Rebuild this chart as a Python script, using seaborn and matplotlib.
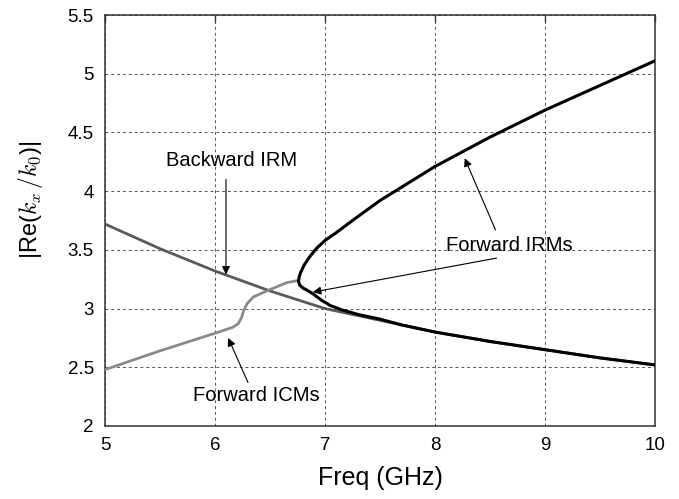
import matplotlib
matplotlib.use("Agg")
import matplotlib.pyplot as plt
import seaborn as sns
import pandas as pd

# Data
bw_x = [5.0, 5.5, 6.0, 6.5, 7.0, 7.5, 8.0, 8.5, 9.0, 9.5, 10.0]
bw_y = [3.72, 3.51, 3.32, 3.15, 3.00, 2.90, 2.80, 2.72, 2.65, 2.58, 2.52]

icm_x = [5.0, 5.5, 6.0, 6.16, 6.21, 6.24, 6.26, 6.29, 6.35, 6.47, 6.65, 6.76]
icm_y = [2.48, 2.64, 2.79, 2.84, 2.87, 2.92, 2.98, 3.04, 3.10, 3.15, 3.22, 3.24]

irm_x = [10.0, 9.5, 9.0, 8.5, 8.0, 7.5, 7.25, 7.1, 7.0, 6.92, 6.86, 6.81, 6.78, 6.765,
         6.76, 6.77, 6.80, 6.84, 6.9, 6.97, 7.05, 7.15, 7.3, 7.5, 7.7, 8.0, 8.5,
         9.0, 9.5, 10.0]
irm_y = [5.11, 4.90, 4.69, 4.46, 4.21, 3.92, 3.75, 3.645, 3.58, 3.51, 3.44, 3.37, 3.31,
         3.27, 3.23, 3.20, 3.175, 3.155, 3.12, 3.07, 3.025, 2.99, 2.95, 2.91, 2.86,
         2.80, 2.72, 2.65, 2.58, 2.52]

x_ticks = [5, 6, 7, 8, 9, 10]
y_ticks = [2, 2.5, 3, 3.5, 4, 4.5, 5, 5.5]
y_tick_labels = ["2", "2.5", "3", "3.5", "4", "4.5", "5", "5.5"]

sns.set_style("white")
plt.rcParams['font.family'] = ['Liberation Sans', 'DejaVu Sans']
plt.rcParams['mathtext.fontset'] = 'cm'
plt.rcParams['text.color'] = 'black'
plt.rcParams['axes.labelcolor'] = 'black'

fig = plt.figure(figsize=(6.79, 4.99), dpi=100)
ax = fig.add_axes([105/679, 1-426/499, 550/679, 411/499])

df_bw = pd.DataFrame({"x": bw_x, "y": bw_y})
df_icm = pd.DataFrame({"x": icm_x, "y": icm_y})
df_irm = pd.DataFrame({"x": irm_x, "y": irm_y})

sns.lineplot(data=df_bw, x="x", y="y", ax=ax, color="#5a5a5a", lw=2.0,
             sort=False, estimator=None, zorder=3)
sns.lineplot(data=df_icm, x="x", y="y", ax=ax, color="#8a8a8a", lw=2.0,
             sort=False, estimator=None, zorder=3)
sns.lineplot(data=df_irm, x="x", y="y", ax=ax, color="black", lw=2.2,
             sort=False, estimator=None, zorder=4)

ax.set_xlim(5, 10)
ax.set_ylim(2, 5.5)
ax.set_xticks(x_ticks)
ax.set_xticklabels([str(t) for t in x_ticks])
ax.set_yticks(y_ticks)
ax.set_yticklabels(y_tick_labels)
ax.tick_params(direction='in', length=5, width=1, colors='#333333', labelsize=13.5,
               labelcolor='black', pad=8)
ax.tick_params(axis='x', top=True)
ax.grid(True, linestyle=(0, (3, 3)), linewidth=0.7, color='#555555')
for s in ax.spines.values():
    s.set_color('#333333')
    s.set_linewidth(1.1)

ax.set_xlabel("Freq (GHz)", fontsize=18, color='black')
ax.xaxis.set_label_coords(0.5, -0.097)
ax.set_ylabel(r"|Re($k_x\,/k_0$)|", fontsize=17, color='black')
ax.yaxis.set_label_coords(-0.109, 0.55)

aprops = dict(arrowstyle='-|>', color='black', lw=0.8, mutation_scale=12, shrinkA=0, shrinkB=0)
ax.text(6.15, 4.26, "Backward IRM", ha='center', va='center', fontsize=14.5, color='black')
ax.annotate("", xy=(6.1, 3.29), xytext=(6.1, 4.10), arrowprops=aprops)

ax.text(6.38, 2.26, "Forward ICMs", ha='center', va='center', fontsize=14.5, color='black')
ax.annotate("", xy=(6.12, 2.75), xytext=(6.30, 2.37), arrowprops=aprops)

ax.text(8.68, 3.54, "Forward IRMs", ha='center', va='center', fontsize=14.5, color='black')
ax.annotate("", xy=(6.89, 3.14), xytext=(8.56, 3.43), arrowprops=aprops)
ax.annotate("", xy=(8.27, 4.28), xytext=(8.55, 3.67), arrowprops=aprops)

fig.savefig("out.png", dpi=100)
